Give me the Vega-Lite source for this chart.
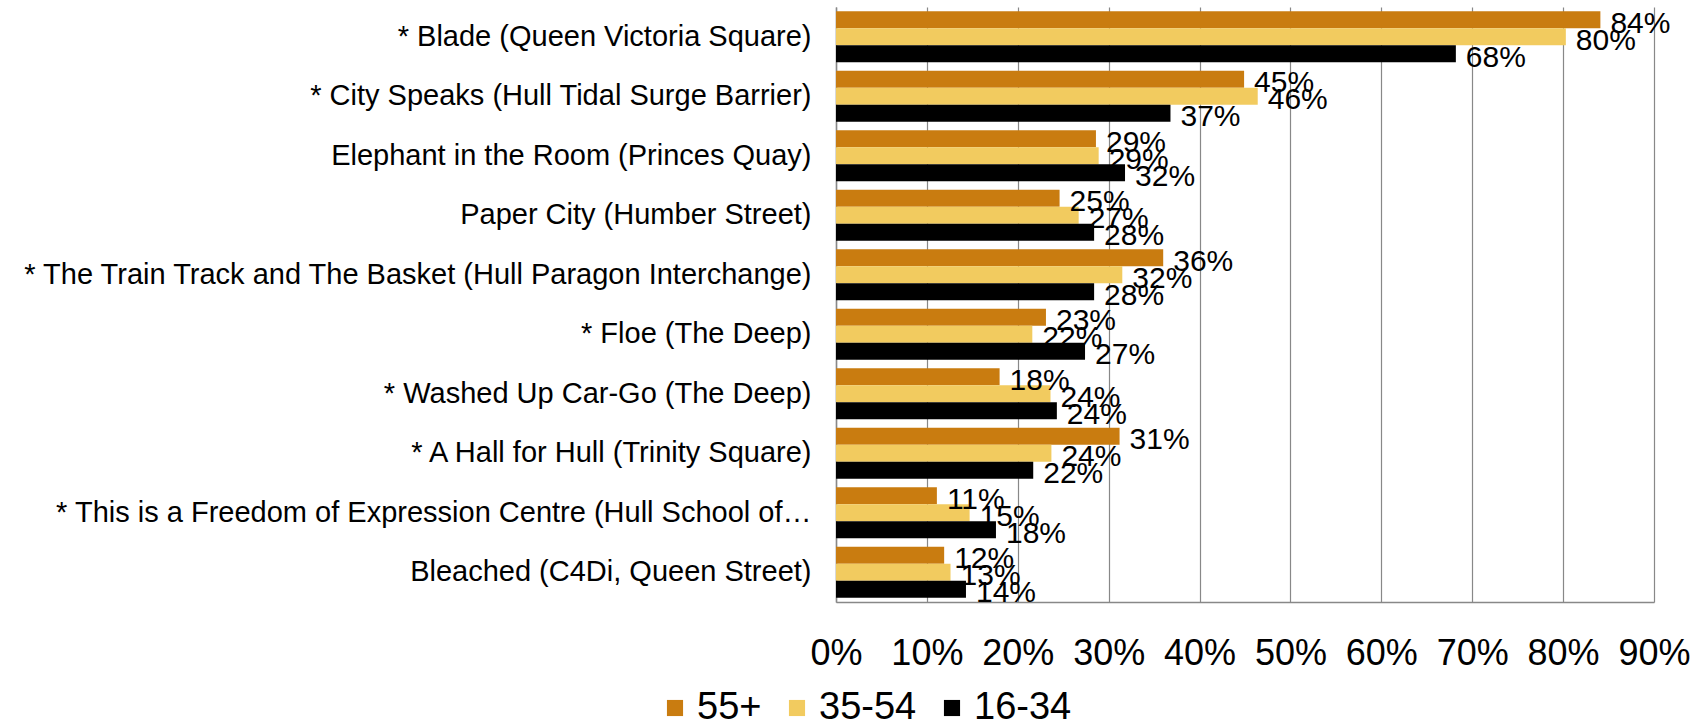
{
  "$schema": "https://vega.github.io/schema/vega-lite/v6.json",
  "autosize": {"type": "none"},
  "padding": {"left": 836, "top": 7, "right": 53, "bottom": 126},
  "width": 818,
  "height": 595,
  "config": {"font": "Liberation Sans", "view": {"stroke": null}},
  "data": {"values": [
    {"site": "* Blade (Queen Victoria Square)", "age": "55+", "value": 0.841},
    {"site": "* Blade (Queen Victoria Square)", "age": "35-54", "value": 0.803},
    {"site": "* Blade (Queen Victoria Square)", "age": "16-34", "value": 0.682},
    {"site": "* City Speaks (Hull Tidal Surge Barrier)", "age": "55+", "value": 0.449},
    {"site": "* City Speaks (Hull Tidal Surge Barrier)", "age": "35-54", "value": 0.464},
    {"site": "* City Speaks (Hull Tidal Surge Barrier)", "age": "16-34", "value": 0.368},
    {"site": "Elephant in the Room (Princes Quay)", "age": "55+", "value": 0.286},
    {"site": "Elephant in the Room (Princes Quay)", "age": "35-54", "value": 0.289},
    {"site": "Elephant in the Room (Princes Quay)", "age": "16-34", "value": 0.318},
    {"site": "Paper City (Humber Street)", "age": "55+", "value": 0.246},
    {"site": "Paper City (Humber Street)", "age": "35-54", "value": 0.267},
    {"site": "Paper City (Humber Street)", "age": "16-34", "value": 0.284},
    {"site": "* The Train Track and The Basket (Hull Paragon Interchange)", "age": "55+", "value": 0.360},
    {"site": "* The Train Track and The Basket (Hull Paragon Interchange)", "age": "35-54", "value": 0.315},
    {"site": "* The Train Track and The Basket (Hull Paragon Interchange)", "age": "16-34", "value": 0.284},
    {"site": "* Floe (The Deep)", "age": "55+", "value": 0.231},
    {"site": "* Floe (The Deep)", "age": "35-54", "value": 0.216},
    {"site": "* Floe (The Deep)", "age": "16-34", "value": 0.274},
    {"site": "* Washed Up Car-Go (The Deep)", "age": "55+", "value": 0.180},
    {"site": "* Washed Up Car-Go (The Deep)", "age": "35-54", "value": 0.236},
    {"site": "* Washed Up Car-Go (The Deep)", "age": "16-34", "value": 0.243},
    {"site": "* A Hall for Hull (Trinity Square)", "age": "55+", "value": 0.312},
    {"site": "* A Hall for Hull (Trinity Square)", "age": "35-54", "value": 0.237},
    {"site": "* A Hall for Hull (Trinity Square)", "age": "16-34", "value": 0.217},
    {"site": "* This is a Freedom of Expression Centre (Hull School of…", "age": "55+", "value": 0.111},
    {"site": "* This is a Freedom of Expression Centre (Hull School of…", "age": "35-54", "value": 0.147},
    {"site": "* This is a Freedom of Expression Centre (Hull School of…", "age": "16-34", "value": 0.176},
    {"site": "Bleached (C4Di, Queen Street)", "age": "55+", "value": 0.119},
    {"site": "Bleached (C4Di, Queen Street)", "age": "35-54", "value": 0.126},
    {"site": "Bleached (C4Di, Queen Street)", "age": "16-34", "value": 0.143}
  ]},
  "encoding": {
    "y": {
      "field": "site", "type": "nominal", "sort": null,
      "scale": {"paddingInner": 0.14, "paddingOuter": 0.07},
      "axis": {"title": null, "ticks": false, "labelFontSize": 29, "labelColor": "#000", "labelPadding": 25, "labelLimit": 900, "domainColor": "#888", "domainWidth": 1.5}
    },
    "yOffset": {"field": "age", "type": "nominal", "sort": ["55+", "35-54", "16-34"], "scale": {"paddingInner": 0, "paddingOuter": 0}},
    "x": {
      "field": "value", "type": "quantitative",
      "scale": {"domain": [0, 0.9], "nice": false},
      "axis": {"title": null, "format": ".0%", "values": [0, 0.1, 0.2, 0.3, 0.4, 0.5, 0.6, 0.7, 0.8, 0.9], "ticks": false, "labelOverlap": false, "labelFlush": false, "labelBound": false, "labelFontSize": 36, "labelColor": "#000", "labelPadding": 34, "grid": true, "gridColor": "#888", "gridWidth": 1.2, "domainColor": "#888", "domainWidth": 1.5}
    }
  },
  "layer": [
    {
      "mark": {"type": "bar"},
      "encoding": {
        "color": {
          "field": "age", "type": "nominal",
          "scale": {"domain": ["55+", "35-54", "16-34"], "range": ["#C97C10", "#F2CB5F", "#000000"]},
          "legend": {"title": null, "orient": "none", "direction": "horizontal", "legendX": -180, "legendY": 682, "symbolType": "square", "symbolSize": 260, "symbolStrokeWidth": 0, "labelFontSize": 38, "labelColor": "#000", "labelOffset": 3, "columnPadding": 16}
        }
      }
    },
    {
      "mark": {"type": "text", "align": "left", "baseline": "middle", "dx": 10, "dy": 4, "fontSize": 30, "color": "#000"},
      "encoding": {"text": {"field": "value", "type": "quantitative", "format": ".0%"}}
    }
  ]
}
